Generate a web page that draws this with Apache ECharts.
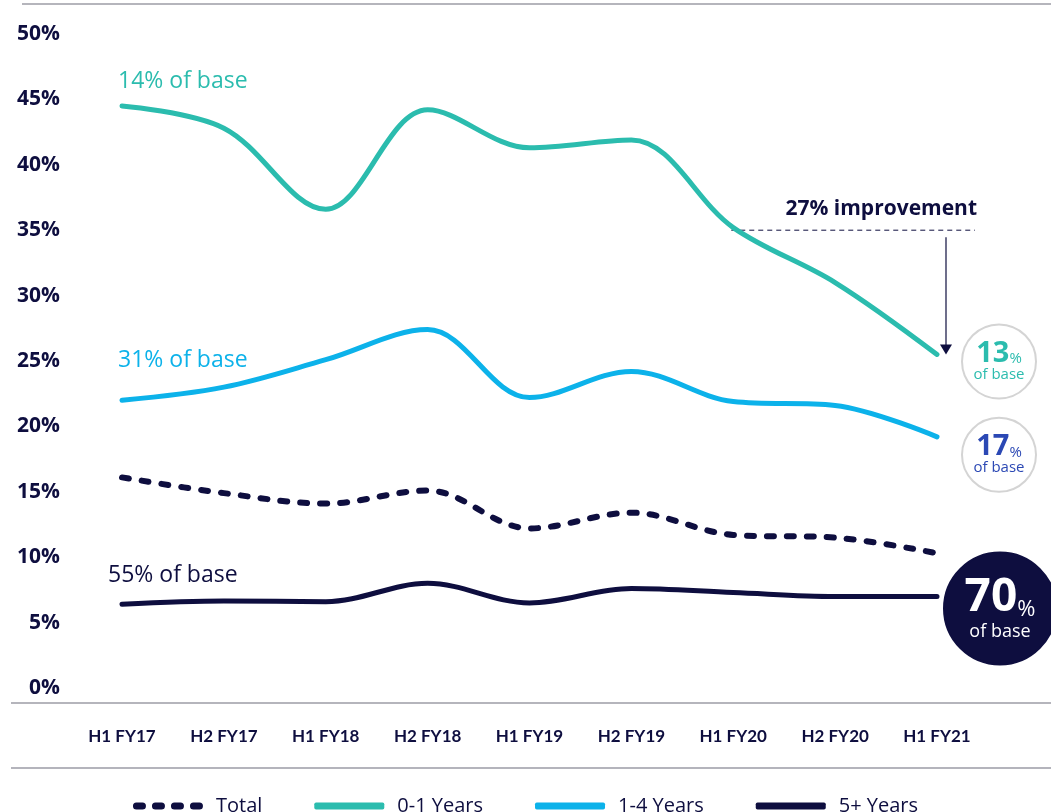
<!DOCTYPE html>
<html>
<head>
<meta charset="utf-8">
<script src="https://cdn.jsdelivr.net/npm/echarts@6/dist/echarts.min.js"></script>
<style>
  html, body { margin: 0; padding: 0; background: #fff; }
  #main { width: 1051px; height: 812px; }
</style>
</head>
<body>
<div id="main"></div>
<script>
// periods along the x axis
var categories = ['H1 FY17', 'H2 FY17', 'H1 FY18', 'H2 FY18', 'H1 FY19', 'H2 FY19', 'H1 FY20', 'H2 FY20', 'H1 FY21'];
// series values, in %
var total = [16.1, 14.9, 14.1, 15.1, 12.2, 13.4, 11.7, 11.5, 10.3];
var years01 = [44.5, 42.8, 36.6, 44.2, 41.3, 41.9, 35.2, 31.0, 25.5];
var years14 = [22.0, 23.0, 25.1, 27.4, 22.2, 24.2, 21.9, 21.6, 19.2];
var years5 = [6.4, 6.65, 6.6, 8.0, 6.5, 7.6, 7.3, 7.0, 7.0];
// y ticks
var yMin = 0, yMax = 50, yStep = 5;
// improvement line level
var improvementLevel = 35;

var NAVY = '#0e0e3f';
var TEAL = '#2bbcae';
var BLUE = '#0cb2ea';
var ROYAL = '#2b48b4';
var FONT = '"Open Sans", Lato, sans-serif';
var FONT_X = 'Lato, "Open Sans", sans-serif';

// legend icons: four rounded dashes for Total, a thick bar for the rest
function capsule(x) {
  return 'M' + (x + 3.5) + ',0h6a3.5,3.5 0 0 1 0,7h-6a3.5,3.5 0 0 1 0,-7z';
}
var dashIcon = 'path://' + capsule(0) + capsule(19) + capsule(38) + capsule(57);

var chart = echarts.init(document.getElementById('main'), null, { renderer: 'canvas' });

function lineSeries(name, data, color, extra) {
  var s = {
    name: name,
    type: 'line',
    data: data,
    smooth: 0.35,
    symbol: 'none',
    lineStyle: { color: color, width: 5, cap: 'round', join: 'round' },
    itemStyle: { color: color }
  };
  return Object.assign(s, extra || {});
}

var option = {
  backgroundColor: '#ffffff',
  animation: false,
  textStyle: { fontFamily: FONT },
  grid: { left: 122, right: 114, top: 34, bottom: 124 },
  legend: {
    top: 791,
    left: 'center',
    itemWidth: 70,
    itemHeight: 7,
    itemGap: 52,
    textStyle: { color: NAVY, fontSize: 20, fontFamily: FONT, padding: [0, 0, 0, 8] },
    data: [
      { name: 'Total', icon: dashIcon },
      { name: '0-1 Years', icon: 'roundRect' },
      { name: '1-4 Years', icon: 'roundRect' },
      { name: '5+ Years', icon: 'roundRect' }
    ]
  },
  xAxis: {
    type: 'category',
    data: categories,
    boundaryGap: false,
    axisLine: { show: false },
    axisTick: { show: false },
    axisLabel: { color: NAVY, fontWeight: 'bold', fontSize: 17, margin: 40, fontFamily: FONT_X }
  },
  yAxis: {
    type: 'value',
    min: yMin,
    max: yMax,
    interval: yStep,
    splitLine: { show: false },
    axisLine: { show: false },
    axisTick: { show: false },
    axisLabel: { formatter: '{value}%', color: NAVY, fontWeight: 'bold', fontSize: 21, margin: 62, fontFamily: FONT }
  },
  series: [
    lineSeries('Total', total, NAVY, { lineStyle: { color: NAVY, width: 6, type: [7, 13], cap: 'round' } }),
    lineSeries('0-1 Years', years01, TEAL),
    lineSeries('1-4 Years', years14, BLUE),
    lineSeries('5+ Years', years5, NAVY)
  ]
};

chart.setOption(option);

// annotations placed through the chart's own scales
var last = categories.length - 1;
var pImpStart = chart.convertToPixel({ gridIndex: 0 }, [6, improvementLevel]);
var pImpEnd = chart.convertToPixel({ gridIndex: 0 }, [last, improvementLevel]);
var pTealEnd = chart.convertToPixel({ gridIndex: 0 }, [last, years01[last]]);
var pBlueEnd = chart.convertToPixel({ gridIndex: 0 }, [last, years14[last]]);
var pNavyEnd = chart.convertToPixel({ gridIndex: 0 }, [last, years5[last]]);
var pFirst01 = chart.convertToPixel({ gridIndex: 0 }, [0, years01[0]]);
var pFirst14 = chart.convertToPixel({ gridIndex: 0 }, [0, years14[0]]);
var pFirst5 = chart.convertToPixel({ gridIndex: 0 }, [0, years5[0]]);
var zeroY = chart.convertToPixel({ gridIndex: 0 }, [0, 0])[1];
var arrowX = pTealEnd[0] + 9;

function circleBadge(cx, cy, r, fill, stroke, num, color) {
  var big = r > 45;
  return {
    type: 'group',
    children: [
      { type: 'circle', shape: { cx: cx, cy: cy, r: r }, style: { fill: fill, stroke: stroke, lineWidth: 2 } },
      {
        type: 'text',
        x: cx, y: cy,
        style: {
          text: '{n|' + num + '}{p|%}\n{b|of base}',
          align: 'center', verticalAlign: 'middle',
          rich: {
            n: { fontSize: big ? 46 : 29, fontWeight: 'bold', fill: color, fontFamily: FONT, lineHeight: big ? 46 : 26 },
            p: { fontSize: big ? 22 : 15, fill: color, fontFamily: FONT, verticalAlign: 'bottom' },
            b: { fontSize: big ? 18 : 15, fill: color, fontFamily: FONT, align: 'center', lineHeight: big ? 22 : 16 }
          }
        }
      }
    ]
  };
}

chart.setOption({
  graphic: [
    { type: 'line', shape: { x1: 22, y1: 4, x2: 1051, y2: 4 }, style: { stroke: '#9c9ca6', lineWidth: 1.5 } },
    { type: 'line', shape: { x1: 11, y1: zeroY + 15, x2: 1051, y2: zeroY + 15 }, style: { stroke: '#9c9ca6', lineWidth: 1.5 } },
    { type: 'line', shape: { x1: 11, y1: 768, x2: 1051, y2: 768 }, style: { stroke: '#b4b4bc', lineWidth: 2 } },
    { type: 'text', x: pFirst01[0] - 4, y: pFirst01[1] - 24, style: { text: '14% of base', fill: TEAL, fontSize: 23, fontFamily: FONT, verticalAlign: 'middle' } },
    { type: 'text', x: pFirst14[0] - 4, y: pFirst14[1] - 40, style: { text: '31% of base', fill: BLUE, fontSize: 23, fontFamily: FONT, verticalAlign: 'middle' } },
    { type: 'text', x: pFirst5[0] - 14, y: pFirst5[1] - 29, style: { text: '55% of base', fill: NAVY, fontSize: 23, fontFamily: FONT, verticalAlign: 'middle' } },
    { type: 'text', x: pImpEnd[0] + 40, y: pImpEnd[1] - 21, style: { text: '27% improvement', fill: NAVY, fontSize: 21, fontWeight: 'bold', fontFamily: FONT, align: 'right', verticalAlign: 'middle' } },
    { type: 'line', shape: { x1: pImpStart[0] - 2, y1: pImpStart[1], x2: pImpEnd[0] + 38, y2: pImpEnd[1] }, style: { stroke: NAVY, lineWidth: 1, lineDash: [5, 4] } },
    { type: 'line', shape: { x1: arrowX, y1: pImpEnd[1] + 7, x2: arrowX, y2: pTealEnd[1] - 8 }, style: { stroke: NAVY, lineWidth: 1.2 } },
    { type: 'polygon', shape: { points: [[arrowX - 6, pTealEnd[1] - 10], [arrowX + 6, pTealEnd[1] - 10], [arrowX, pTealEnd[1]]] }, style: { fill: NAVY } },
    circleBadge(pTealEnd[0] + 62, pTealEnd[1] + 7, 37, '#ffffff', '#d4d4d4', '13', TEAL),
    circleBadge(pBlueEnd[0] + 62, pBlueEnd[1] + 18, 37, '#ffffff', '#d4d4d4', '17', ROYAL),
    circleBadge(pNavyEnd[0] + 63, pNavyEnd[1] + 12, 56, NAVY, NAVY, '70', '#ffffff')
  ]
});
</script>
</body>
</html>
